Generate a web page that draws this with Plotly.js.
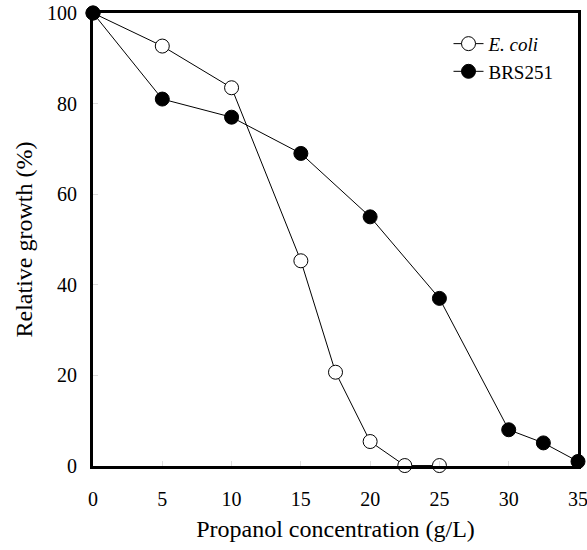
<!DOCTYPE html>
<html>
<head>
<meta charset="utf-8">
<script src="https://cdn.plot.ly/plotly-3.0.1.min.js"></script>
<style>html,body{margin:0;padding:0;background:#fff;}#chart{width:587px;height:550px;}</style>
</head>
<body>
<div id="chart"></div>
<script>
const concEcoli = [0, 5, 10, 15, 17.5, 20, 22.5, 25];
const growthEcoli = [100, 92.7, 83.5, 45.3, 20.7, 5.4, 0.1, 0.1];
const concBRS = [0, 5, 10, 15, 20, 25, 30, 32.5, 35];
const growthBRS = [100, 81, 77, 69, 55, 37, 8, 5.1, 1];
const xTicks = [0, 5, 10, 15, 20, 25, 30, 35];
const yTicks = [0, 20, 40, 60, 80, 100];

const font = "'Liberation Serif', 'Times New Roman', serif";
const traces = [
  {x: concEcoli, y: growthEcoli, name: "<i>E. coli</i>", mode: "lines+markers", cliponaxis: false,
   line: {color: "#000", width: 1}, marker: {symbol: "circle", size: 14, color: "#fff", line: {color: "#000", width: 1}}},
  {x: concBRS, y: growthBRS, name: "BRS251", mode: "lines+markers", cliponaxis: false,
   line: {color: "#000", width: 1}, marker: {symbol: "circle", size: 14, color: "#000", line: {color: "#000", width: 1}}}
];
const layout = {
  width: 587, height: 550,
  margin: {l: 93, r: 9, t: 13, b: 84},
  paper_bgcolor: "#fff", plot_bgcolor: "#fff",
  font: {family: font, color: "#000", size: 20},
  showlegend: true,
  legend: {x: 0.733, y: 0.974, xanchor: "left", yanchor: "top", bgcolor: "rgba(0,0,0,0)", font: {family: font, size: 19}, itemwidth: 30},
  xaxis: {range: [0, 35], tickvals: xTicks, ticktext: xTicks.map(String), showgrid: false, zeroline: false,
    showline: true, linecolor: "#000", linewidth: 3, mirror: true, ticklabeloverflow: "allow",
    tickfont: {family: font, size: 20},
    ticks: "inside", ticklen: 5, tickcolor: "#ddd", tickwidth: 1, ticklabelstandoff: 13,
    title: {text: "Propanol concentration (g/L)", font: {family: font, size: 24}, standoff: 12}},
  yaxis: {range: [0, 100], tickvals: yTicks, ticktext: yTicks.map(String), showgrid: false, zeroline: false,
    showline: true, linecolor: "#000", linewidth: 3, mirror: true,
    tickfont: {family: font, size: 20},
    ticks: "inside", ticklen: 5, tickcolor: "#ddd", tickwidth: 1, ticklabelstandoff: 9,
    title: {text: "Relative growth (%)", font: {family: font, size: 24}, standoff: 8}}
};
Plotly.newPlot("chart", traces, layout, {displayModeBar: false, staticPlot: true});
</script>
</body>
</html>
